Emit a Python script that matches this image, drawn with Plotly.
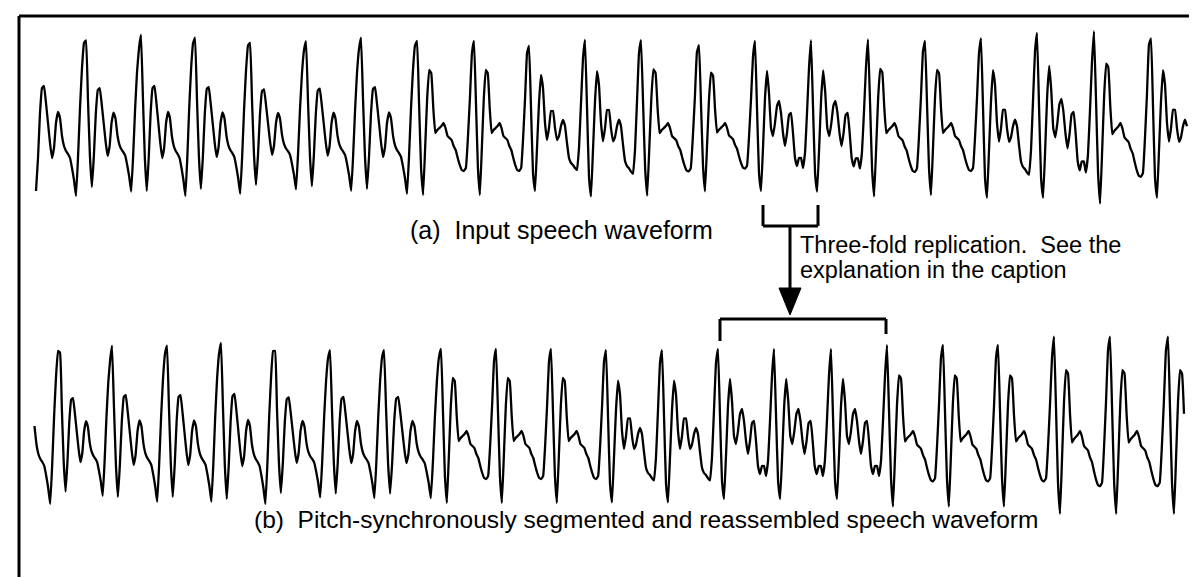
import plotly.graph_objects as go

# one pitch period of each waveform type, 28 samples from a main peak to just before the next one
# (amplitude, 1 unit = 1 px)
PERIOD_A = [88, 25, -35, -68, -35, 10, 35, 37, 20, 0, -20, -35, -25, 0,
            11, 5, -13, -23, -28, -31, -35, -45, -57, -73, -35, 15, 55, 80]
PERIOD_B = [82, 20, -45, -72, -25, 25, 53, 50, 15, -10, -7, -5, -3, 0,
            -5, -13, -15, -17, -23, -27, -35, -42, -47, -48, -45, -15, 25, 70]
PERIOD_C = [77, 15, -50, -68, -25, 20, 48, 35, 0, -17, -5, 12, 12, -5,
            -17, -13, -3, 3, -3, -20, -35, -40, -42, -45, -47, -25, 20, 65]
PERIOD_D = [82, 15, -50, -68, -25, 25, 52, 30, -5, -13, 0, 17, 22, 10,
            -10, -23, -10, 8, 10, -10, -35, -43, -35, -35, -45, -30, 10, 55]
TEMPLATES = {"A": PERIOD_A, "B": PERIOD_B, "C": PERIOD_C, "D": PERIOD_D}

# (a) input speech: pitch marks, period type and gain
a_marks = [22, 78, 133, 187, 242, 298, 353, 409, 466, 521, 577, 633, 691,
           747, 803, 860, 917, 973, 1029, 1086, 1143, 1199]
a_kinds = ["A", "A", "A", "A", "A", "A", "A", "B", "B", "C", "C", "B", "B",
           "D", "D", "B", "B", "C", "D", "B", "C"]
a_gains = [1.0, 0.94, 1.0, 0.97, 0.91, 0.93, 0.97, 1.0, 1.0, 1.0, 1.08, 1.01,
           0.95, 1.0, 1.01, 1.02, 1.0, 1.1, 1.1, 1.12, 1.1]
a_span = [28, 1180]

# (b) reassembled speech
b_marks = [-3, 52, 104, 159, 213, 267, 322, 376, 433, 488, 543, 598, 654,
           710, 766, 823, 879, 935, 990, 1046, 1102, 1160, 1216]
b_kinds = ["A", "A", "A", "A", "A", "A", "A", "A", "B", "B", "B", "C", "C",
           "D", "D", "D", "B", "B", "B", "B", "B", "B"]
b_gains = [1.0, 0.89, 0.97, 0.97, 1.0, 0.91, 0.92, 0.92, 1.0, 1.0, 1.0, 1.05,
           1.05, 1.0, 1.0, 1.0, 1.05, 1.05, 1.05, 1.15, 1.15, 1.15]
b_span = [25, 1177]


def build(marks, kinds, gains, span):
    xs, ys = [], []
    for i, kind in enumerate(kinds):
        tpl = TEMPLATES[kind]
        n = len(tpl)
        for k, v in enumerate(tpl):
            x = marks[i] + (marks[i + 1] - marks[i]) * k / n
            if span[0] <= x <= span[1]:
                xs.append(x)
                ys.append(v * gains[i])
    return xs, ys


ax, ay = build(a_marks, a_kinds, a_gains, a_span)
bx, by = build(b_marks, b_kinds, b_gains, b_span)

W, H = 1197, 577


def py(px):
    # page pixel row -> paper fraction
    return 1 - px / H


wave = dict(color="black", width=2.3, shape="spline", smoothing=0.3)
fig = go.Figure()
fig.add_trace(go.Scatter(x=ax, y=ay, mode="lines", xaxis="x", yaxis="y", line=wave))
fig.add_trace(go.Scatter(x=bx, y=by, mode="lines", xaxis="x", yaxis="y2", line=wave))

hidden = dict(visible=False, showgrid=False, zeroline=False, fixedrange=True)
fig.update_layout(
    width=W, height=H,
    margin=dict(l=0, r=0, t=0, b=0),
    paper_bgcolor="white", plot_bgcolor="white",
    showlegend=False,
    xaxis=dict(range=[0, W], domain=[0, 1], **hidden),
    yaxis=dict(range=[-100, 100], domain=[py(215), py(15)], **hidden),
    yaxis2=dict(range=[-100, 100], domain=[py(523), py(323)], **hidden),
)

ink = dict(color="black", width=3)
grey = dict(color="#9a9a9a", width=1)


def seg(x0, y0, x1, y1, line=ink):
    return dict(type="line", xref="x", yref="paper", x0=x0, x1=x1,
                y0=py(y0), y1=py(y1), line=line)


shapes = [
    # frame
    seg(11, 8, 1193, 8),
    seg(11, 8, 11, 577),
    seg(1192, 8, 1192, 576, grey),
    seg(11, 576, 1192, 576, grey),
    # bracket under the copied period
    seg(755, 197, 755, 218), seg(755, 218, 810, 218), seg(810, 197, 810, 218),
    # arrow shaft
    seg(782, 218, 782, 284),
    # bracket over the three copies
    seg(712, 333, 712, 311), seg(712, 311, 878, 311), seg(878, 311, 878, 326),
]
# arrow head
shapes.append(dict(type="path", xref="x", yref="paper",
                   path=f"M 771 {py(280)} L 793 {py(280)} L 782 {py(307)} Z",
                   fillcolor="black", line=dict(color="black", width=1)))
fig.update_layout(shapes=shapes)

FAMILY = "Liberation Sans, Arial, sans-serif"
fig.add_annotation(x=553, y=py(222), xref="x", yref="paper", showarrow=False,
                   text="(a)  Input speech waveform",
                   font=dict(family=FAMILY, size=25, color="black"))
fig.add_annotation(x=638, y=py(527), xref="x", yref="paper", showarrow=False,
                   text="(b)  Pitch-synchronously segmented and reassembled speech waveform",
                   font=dict(family=FAMILY, size=24.5, color="black"))
note = dict(family=FAMILY, size=23.5, color="black")
fig.add_annotation(x=790, y=py(237), xref="x", yref="paper", showarrow=False, xanchor="left",
                   text="Three-fold replication.  See the", font=note)
fig.add_annotation(x=790, y=py(262), xref="x", yref="paper", showarrow=False, xanchor="left",
                   text="explanation in the caption", font=note)

fig.write_html("out.html", config={"displayModeBar": False})
